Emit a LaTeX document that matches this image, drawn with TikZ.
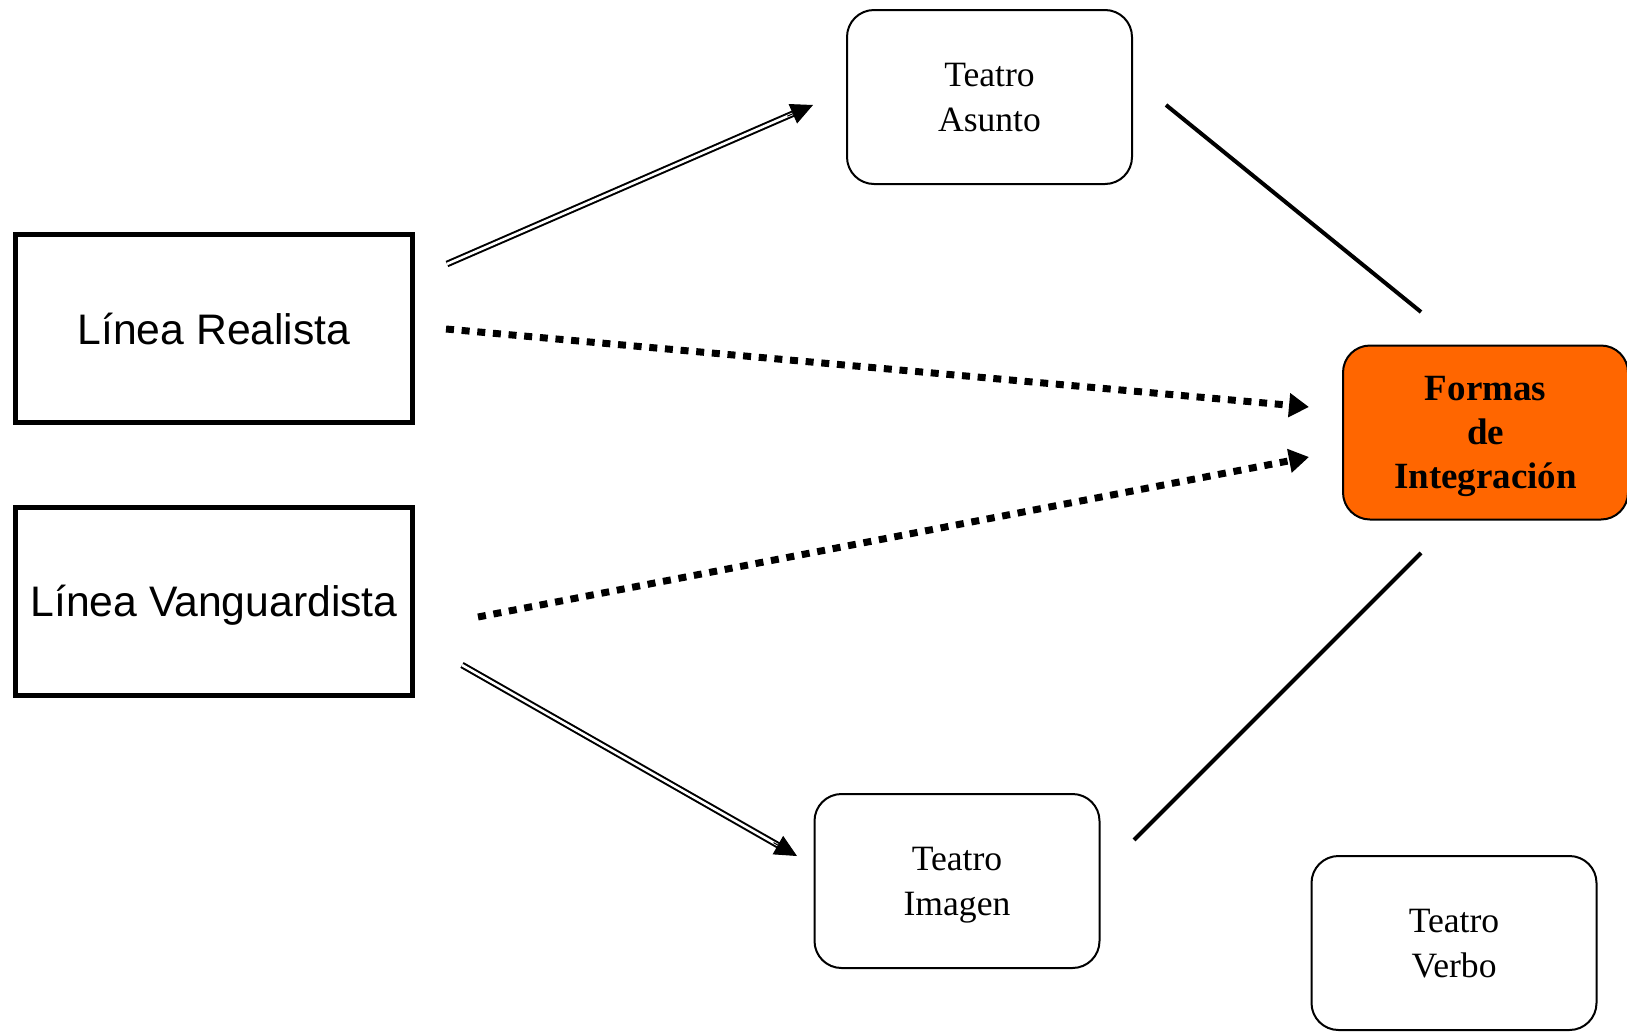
\documentclass[tikz,border=0pt]{standalone}
\usepackage{fontspec}
\setmainfont{Liberation Serif}
\setsansfont{Liberation Sans}
\usetikzlibrary{arrows.meta,calc}
\definecolor{orangeF}{HTML}{FF6600}
\tikzset{
  linebox/.style={draw, line width=5pt, rectangle, minimum width=397.5pt, minimum height=188pt,
    font=\sffamily\fontsize{42.7}{50}\selectfont, inner sep=0pt, text depth=0pt},
  roundbox/.style={draw, line width=2pt, rectangle, rounded corners=27pt, minimum width=285pt,
    minimum height=174pt, align=center, inner sep=0pt, text depth=-4pt,
    font=\fontsize{35.6}{45}\selectfont},
  formbox/.style={roundbox, fill=orangeF, font=\bfseries\fontsize{37}{44}\selectfont},
  dbl/.style={double, line width=2pt, double distance=2.6pt, shorten >=17pt},
  dbltip/.style={-{Triangle[length=22pt,width=21pt]}, line width=1pt},
  dotarrow/.style={line width=7pt, dash pattern=on 8pt off 7.7pt,
    -{Triangle[length=20pt,width=23pt]}},
  solidline/.style={line width=4pt}
}
\begin{document}
\begin{tikzpicture}[x=1pt,y=-1pt]
\useasboundingbox (0,0) rectangle (1627,1031);
% boxes
\node[linebox] (real) at (214,328.5) {Línea Realista};
\node[linebox] (vang) at (214,601) {Línea Vanguardista};
\node[roundbox] (asunto) at (989.5,97) {Teatro\\Asunto};
\node[formbox] (formas) at (1485.5,432.5) {Formas\\de\\Integración};
\node[roundbox] (imagen) at (957,881) {Teatro\\Imagen};
\node[roundbox] (verbo) at (1454,943) {Teatro\\Verbo};
% connector end points
\coordinate (a1s) at (447,264);
\coordinate (a1e) at (813,105);
\coordinate (a2s) at (462,665);
\coordinate (a2e) at (797,856);
\coordinate (d1s) at (446,329);
\coordinate (d1e) at (1309,407);
\coordinate (d2s) at (478,617);
\coordinate (d2e) at (1309,457);
\coordinate (l1s) at (1166,105);
\coordinate (l1e) at (1421,312);
\coordinate (l2s) at (1421,553);
\coordinate (l2e) at (1134,840);
% double arrows
\draw[dbl] (a1s) -- (a1e);
\draw[dbltip] ($(a1s)!0.93!(a1e)$) -- (a1e);
\draw[dbl] (a2s) -- (a2e);
\draw[dbltip] ($(a2s)!0.93!(a2e)$) -- (a2e);
% dotted arrows
\draw[dotarrow] (d1s) -- (d1e);
\draw[dotarrow] (d2s) -- (d2e);
% solid lines
\draw[solidline] (l1s) -- (l1e);
\draw[solidline] (l2s) -- (l2e);
\end{tikzpicture}
\end{document}
